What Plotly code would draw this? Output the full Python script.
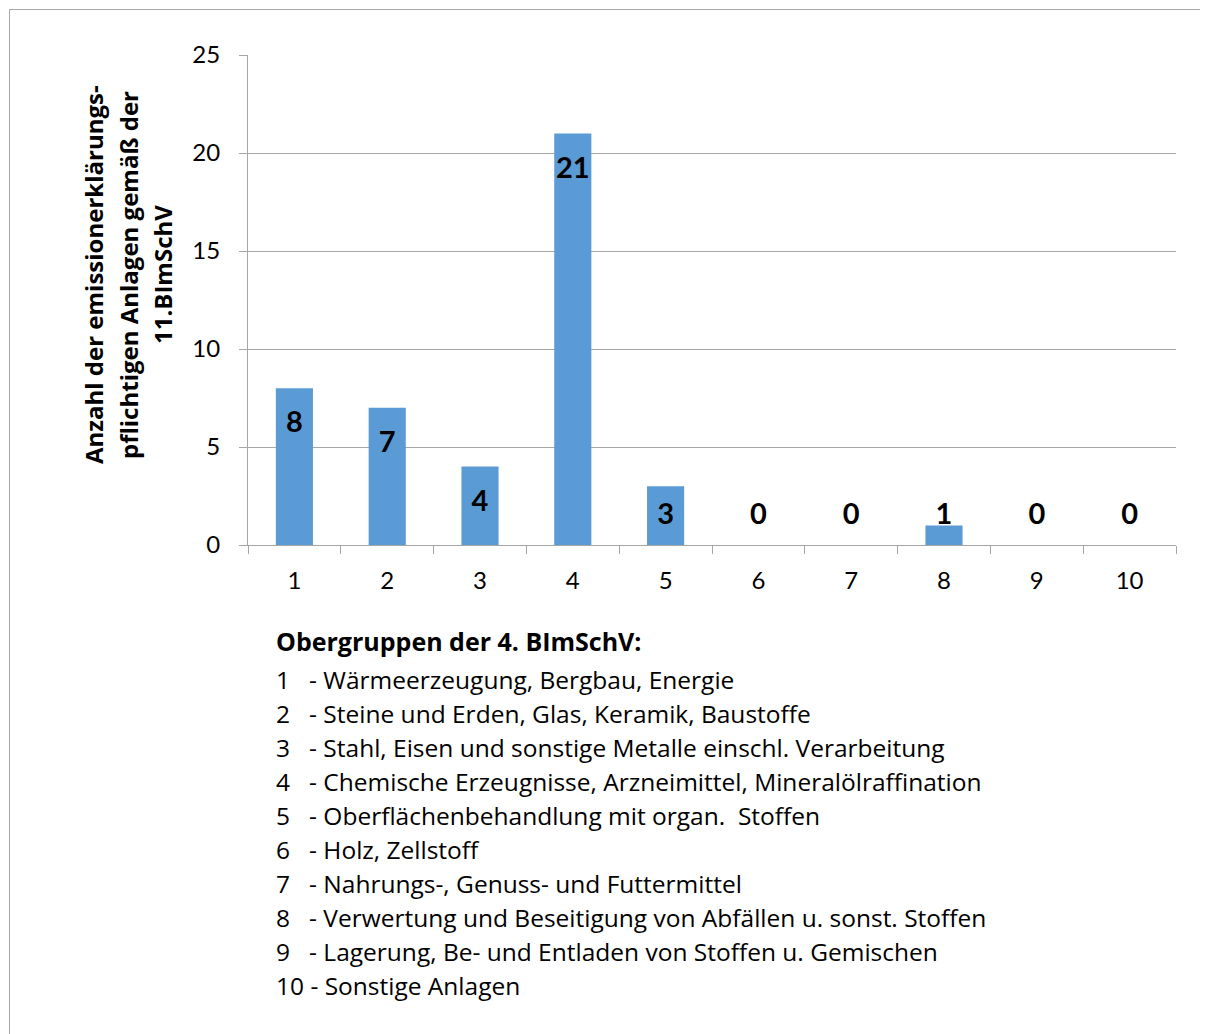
import plotly.graph_objects as go

categories = ["1", "2", "3", "4", "5", "6", "7", "8", "9", "10"]
values = [8, 7, 4, 21, 3, 0, 0, 1, 0, 0]
y_ticks = [0, 5, 10, 15, 20, 25]
group_names = [
    "Wärmeerzeugung, Bergbau, Energie",
    "Steine und Erden, Glas, Keramik, Baustoffe",
    "Stahl, Eisen und sonstige Metalle einschl. Verarbeitung",
    "Chemische Erzeugnisse, Arzneimittel, Mineralölraffination",
    "Oberflächenbehandlung mit organ.  Stoffen",
    "Holz, Zellstoff",
    "Nahrungs-, Genuss- und Futtermittel",
    "Verwertung und Beseitigung von Abfällen u. sonst. Stoffen",
    "Lagerung, Be- und Entladen von Stoffen u. Gemischen",
    "Sonstige Anlagen",
]
legend_title = "Obergruppen der 4. BImSchV:"
y_title_lines = [
    "Anzahl der emissionerklärungs-",
    "pflichtigen Anlagen gemäß der",
    "11.BImSchV",
]

FONT = "Open Sans"
OFF = 8  # page body margin
W, H = 1200, 1026
# plot area in page pixels: x 248..1176, y 55..545
L, T = 248 - OFF, 55 - OFF
R = W - (1176 - OFF)
B = H - (545 - OFF)
pw, ph = W - L - R, H - T - B

def px_x(p):
    return (p - OFF - L) / pw

def px_y(p):
    return (H - B - (p - OFF)) / ph

fig = go.Figure()
fig.add_trace(go.Bar(
    x=categories, y=values, marker_color="#5B9BD5",
    marker_line_width=0, width=0.4, hoverinfo="skip", showlegend=False,
))
# data labels: inside end, but kept above the baseline for small bars
label_y = [max(v - 1.88, 1.43) for v in values]
fig.add_trace(go.Scatter(
    x=categories, y=label_y, mode="text", text=[str(v) for v in values],
    textposition="middle center",
    textfont=dict(family="Lato", size=29, color="black", weight="bold"),
    showlegend=False, hoverinfo="skip", cliponaxis=False,
))

fig.update_layout(
    width=W, height=H,
    margin=dict(l=L, r=R, t=T, b=B, autoexpand=False),
    paper_bgcolor="white", plot_bgcolor="white",
    font=dict(family="Lato", size=24, color="black"),
    bargap=0.6,
)
fig.update_xaxes(
    type="category", showline=True, linecolor="#a6a6a6", linewidth=1,
    ticks="outside", ticklen=8, tickcolor="#a6a6a6", tickson="boundaries",
    showgrid=False, tickfont=dict(family="Lato", size=24), ticklabelstandoff=14,
)
fig.update_yaxes(
    range=[0, 25], tickvals=y_ticks, showline=True, linecolor="#a6a6a6", linewidth=1,
    ticks="outside", ticklen=8, tickcolor="#a6a6a6",
    showgrid=True, gridcolor="#a6a6a6", gridwidth=1, zeroline=False,
    tickfont=dict(family="Lato", size=24), ticklabelstandoff=14,
)

ann = []
for xc, line in zip([93, 128, 162], y_title_lines):
    ann.append(dict(
        x=px_x(xc), y=px_y(275), xref="paper", yref="paper", text="<b>" + line + "</b>",
        textangle=-90, showarrow=False, font=dict(family=FONT, size=24, color="black"),
        xanchor="center", yanchor="middle", align="center",
    ))
ann.append(dict(
    x=px_x(274), y=px_y(641), xref="paper", yref="paper", text="<b>" + legend_title + "</b>",
    showarrow=False, font=dict(family=FONT, size=25, color="black"),
    xanchor="left", yanchor="middle", align="left",
))
for i, (c, name) in enumerate(zip(categories, group_names)):
    sep = "   - " if len(c) == 1 else " - "
    ann.append(dict(
        x=px_x(274), y=px_y(679 + 34 * i), xref="paper", yref="paper",
        text=c + sep + name, showarrow=False,
        font=dict(family=FONT, size=24.5, color="black"),
        xanchor="left", yanchor="middle", align="left",
    ))
fig.update_layout(annotations=ann)

fig.add_shape(type="rect", xref="paper", yref="paper",
              x0=px_x(9.5), x1=px_x(1230), y0=px_y(9.5), y1=px_y(1060),
              line=dict(color="#a6a6a6", width=1), fillcolor="rgba(0,0,0,0)", layer="below")

fig.write_html("out.html")
